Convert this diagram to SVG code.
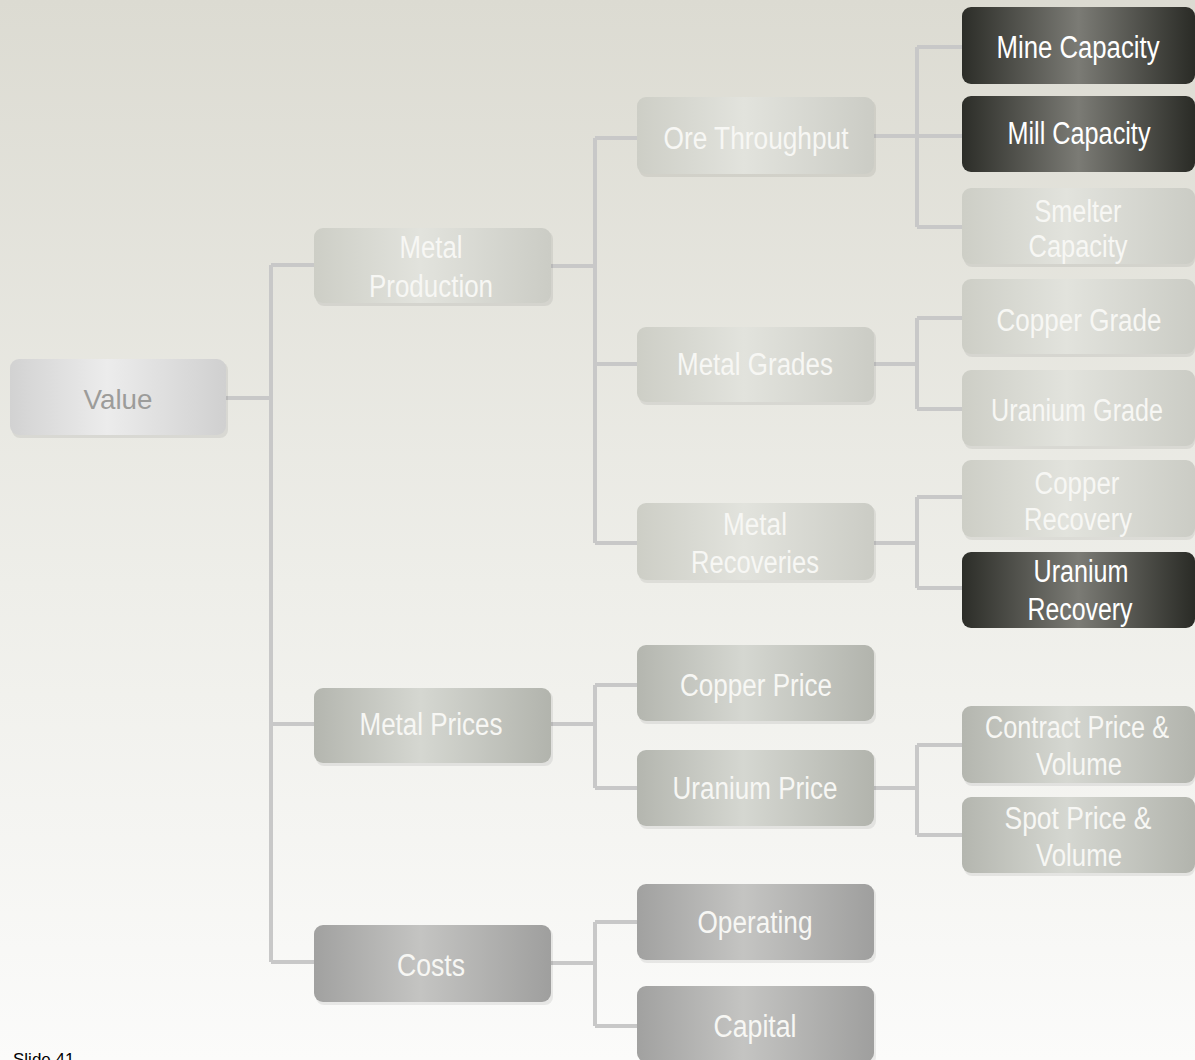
<svg xmlns="http://www.w3.org/2000/svg" width="1195" height="1060" viewBox="0 0 1195 1060">
<defs>
<linearGradient id="bg" x1="0" y1="0" x2="0" y2="1">
<stop offset="0" stop-color="#dcdbd2"/>
<stop offset="0.55" stop-color="#eeeee9"/>
<stop offset="1" stop-color="#fbfbfa"/>
</linearGradient>
<linearGradient id="gLight" x1="0" y1="0" x2="1" y2="0">
<stop offset="0" stop-color="#cdcec6"/>
<stop offset="0.45" stop-color="#e2e3dd"/>
<stop offset="1" stop-color="#cbccc5"/>
</linearGradient>
<linearGradient id="gValue" x1="0" y1="0" x2="1" y2="0">
<stop offset="0" stop-color="#d2d2d2"/>
<stop offset="0.45" stop-color="#ececec"/>
<stop offset="1" stop-color="#d0d0d0"/>
</linearGradient>
<linearGradient id="gMid" x1="0" y1="0" x2="1" y2="0">
<stop offset="0" stop-color="#b4b6af"/>
<stop offset="0.45" stop-color="#d5d7d1"/>
<stop offset="1" stop-color="#b2b4ad"/>
</linearGradient>
<linearGradient id="gCost" x1="0" y1="0" x2="1" y2="0">
<stop offset="0" stop-color="#a1a1a0"/>
<stop offset="0.45" stop-color="#c4c4c2"/>
<stop offset="1" stop-color="#9f9f9e"/>
</linearGradient>
<linearGradient id="gDark" x1="0" y1="0" x2="1" y2="0">
<stop offset="0" stop-color="#2c2d28"/>
<stop offset="0.5" stop-color="#7b7b75"/>
<stop offset="1" stop-color="#2a2b26"/>
</linearGradient>
</defs>
<style>
.sh{fill:#000;opacity:0.07}
.light{fill:url(#gLight)}
.val{fill:url(#gValue)}
.mid{fill:url(#gMid)}
.cost{fill:url(#gCost)}
.dark{fill:url(#gDark)}
.t{font-family:"Liberation Sans Narrow","Liberation Sans",Arial,sans-serif;font-size:31px;text-anchor:middle;fill:#f7f7f4}
.tv{font-family:"Liberation Sans",Arial,sans-serif;font-size:28px;text-anchor:middle;fill:#9c9c9a}
.tw{fill:#ffffff}
.conn{fill:none;stroke:#c8c8c8;stroke-width:4}
.slide{font-family:"Liberation Sans",Arial,sans-serif;font-size:17px;fill:#000}
</style>
<rect x="0" y="0" width="1195" height="1060" fill="url(#bg)"/>

<g id="connectors">
<path class="conn" d="M226 398 H271 M271 265 V962 M271 265 H315 M271 724 H315 M271 962 H315"/>
<path class="conn" d="M551 266 H595 M595 138 V543 M595 138 H637 M595 364 H637 M595 543 H637"/>
<path class="conn" d="M874 136 H962 M917 47 V227 M917 47 H962 M917 227 H962"/>
<path class="conn" d="M874 364 H917 M917 318 V409 M917 318 H962 M917 409 H962"/>
<path class="conn" d="M874 543 H917 M917 497 V588 M917 497 H962 M917 588 H962"/>
<path class="conn" d="M551 724 H595 M595 685 V788 M595 685 H637 M595 788 H637"/>
<path class="conn" d="M874 788 H917 M917 745 V835 M917 745 H962 M917 835 H962"/>
<path class="conn" d="M551 963 H595 M595 922 V1026 M595 922 H637 M595 1026 H637"/>
</g>

<g id="node-value">
<rect class="sh" x="12" y="362" width="216" height="76" rx="8"/>
<rect class="val" x="10" y="359" width="216" height="76" rx="9"/>
<text class="tv" x="118" y="409" textLength="69" lengthAdjust="spacingAndGlyphs">Value</text>
</g>

<g id="node-metal-production">
<rect class="sh" x="316" y="231" width="237" height="75" rx="8"/>
<rect class="light" x="314" y="228" width="237" height="75" rx="9"/>
<text class="t" x="431" y="258" textLength="63" lengthAdjust="spacingAndGlyphs">Metal</text>
<text class="t" x="431" y="297" textLength="124" lengthAdjust="spacingAndGlyphs">Production</text>
</g>

<g id="node-metal-prices">
<rect class="sh" x="316" y="691" width="237" height="75" rx="8"/>
<rect class="mid" x="314" y="688" width="237" height="75" rx="9"/>
<text class="t" x="431" y="735" textLength="143" lengthAdjust="spacingAndGlyphs">Metal Prices</text>
</g>

<g id="node-costs">
<rect class="sh" x="316" y="928" width="237" height="77" rx="8"/>
<rect class="cost" x="314" y="925" width="237" height="77" rx="9"/>
<text class="t" x="431" y="976" textLength="68" lengthAdjust="spacingAndGlyphs">Costs</text>
</g>

<g id="node-ore-throughput">
<rect class="sh" x="639" y="100" width="237" height="77" rx="8"/>
<rect class="light" x="637" y="97" width="237" height="77" rx="9"/>
<text class="t" x="756" y="149" textLength="185" lengthAdjust="spacingAndGlyphs">Ore Throughput</text>
</g>

<g id="node-metal-grades">
<rect class="sh" x="639" y="330" width="237" height="75" rx="8"/>
<rect class="light" x="637" y="327" width="237" height="75" rx="9"/>
<text class="t" x="755" y="375" textLength="156" lengthAdjust="spacingAndGlyphs">Metal Grades</text>
</g>

<g id="node-metal-recoveries">
<rect class="sh" x="639" y="506" width="237" height="77" rx="8"/>
<rect class="light" x="637" y="503" width="237" height="77" rx="9"/>
<text class="t" x="755" y="535" textLength="64" lengthAdjust="spacingAndGlyphs">Metal</text>
<text class="t" x="755" y="573" textLength="128" lengthAdjust="spacingAndGlyphs">Recoveries</text>
</g>

<g id="node-copper-price">
<rect class="sh" x="639" y="648" width="237" height="76" rx="8"/>
<rect class="mid" x="637" y="645" width="237" height="76" rx="9"/>
<text class="t" x="756" y="696" textLength="152" lengthAdjust="spacingAndGlyphs">Copper Price</text>
</g>

<g id="node-uranium-price">
<rect class="sh" x="639" y="753" width="237" height="76" rx="8"/>
<rect class="mid" x="637" y="750" width="237" height="76" rx="9"/>
<text class="t" x="755" y="799" textLength="165" lengthAdjust="spacingAndGlyphs">Uranium Price</text>
</g>

<g id="node-operating">
<rect class="sh" x="639" y="887" width="237" height="76" rx="8"/>
<rect class="cost" x="637" y="884" width="237" height="76" rx="9"/>
<text class="t" x="755" y="933" textLength="115" lengthAdjust="spacingAndGlyphs">Operating</text>
</g>

<g id="node-capital">
<rect class="sh" x="639" y="989" width="237" height="76" rx="8"/>
<rect class="cost" x="637" y="986" width="237" height="76" rx="9"/>
<text class="t" x="755" y="1037" textLength="83" lengthAdjust="spacingAndGlyphs">Capital</text>
</g>

<g id="node-mine-capacity">
<rect class="dark" x="962" y="7" width="233" height="77" rx="9"/>
<text class="t tw" x="1078" y="58" textLength="163" lengthAdjust="spacingAndGlyphs">Mine Capacity</text>
</g>

<g id="node-mill-capacity">
<rect class="dark" x="962" y="96" width="233" height="76" rx="9"/>
<text class="t tw" x="1079" y="144" textLength="143" lengthAdjust="spacingAndGlyphs">Mill Capacity</text>
</g>

<g id="node-smelter-capacity">
<rect class="sh" x="964" y="191" width="231" height="76" rx="8"/>
<rect class="light" x="962" y="188" width="233" height="76" rx="9"/>
<text class="t" x="1078" y="222" textLength="87" lengthAdjust="spacingAndGlyphs">Smelter</text>
<text class="t" x="1078" y="257" textLength="99" lengthAdjust="spacingAndGlyphs">Capacity</text>
</g>

<g id="node-copper-grade">
<rect class="sh" x="964" y="282" width="231" height="75" rx="8"/>
<rect class="light" x="962" y="279" width="233" height="75" rx="9"/>
<text class="t" x="1079" y="331" textLength="165" lengthAdjust="spacingAndGlyphs">Copper Grade</text>
</g>

<g id="node-uranium-grade">
<rect class="sh" x="964" y="373" width="231" height="76" rx="8"/>
<rect class="light" x="962" y="370" width="233" height="76" rx="9"/>
<text class="t" x="1077" y="421" font-size="30" textLength="172" lengthAdjust="spacingAndGlyphs">Uranium Grade</text>
</g>

<g id="node-copper-recovery">
<rect class="sh" x="964" y="463" width="231" height="77" rx="8"/>
<rect class="light" x="962" y="460" width="233" height="77" rx="9"/>
<text class="t" x="1077" y="494" textLength="85" lengthAdjust="spacingAndGlyphs">Copper</text>
<text class="t" x="1078" y="530" textLength="108" lengthAdjust="spacingAndGlyphs">Recovery</text>
</g>

<g id="node-uranium-recovery">
<rect class="dark" x="962" y="552" width="233" height="76" rx="9"/>
<text class="t tw" x="1081" y="582" textLength="95" lengthAdjust="spacingAndGlyphs">Uranium</text>
<text class="t tw" x="1080" y="620" textLength="105" lengthAdjust="spacingAndGlyphs">Recovery</text>
</g>

<g id="node-contract-price">
<rect class="sh" x="964" y="709" width="231" height="77" rx="8"/>
<rect class="mid" x="962" y="706" width="233" height="77" rx="9"/>
<text class="t" x="1077" y="738" font-size="30" textLength="184" lengthAdjust="spacingAndGlyphs">Contract Price &amp;</text>
<text class="t" x="1079" y="775" textLength="86" lengthAdjust="spacingAndGlyphs">Volume</text>
</g>

<g id="node-spot-price">
<rect class="sh" x="964" y="800" width="231" height="76" rx="8"/>
<rect class="mid" x="962" y="797" width="233" height="76" rx="9"/>
<text class="t" x="1078" y="829" textLength="147" lengthAdjust="spacingAndGlyphs">Spot Price &amp;</text>
<text class="t" x="1079" y="866" textLength="86" lengthAdjust="spacingAndGlyphs">Volume</text>
</g>

<text class="slide" x="13" y="1065">Slide 41</text>
</svg>
